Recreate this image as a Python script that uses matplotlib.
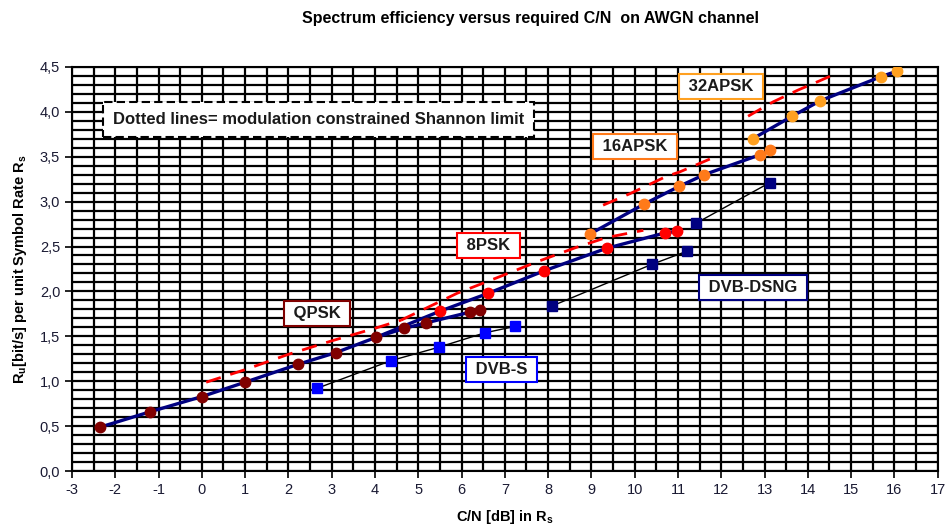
import matplotlib
matplotlib.use("Agg")
import matplotlib.pyplot as plt
from matplotlib.ticker import MultipleLocator, FuncFormatter

plt.rcParams["font.family"] = ["Liberation Sans", "DejaVu Sans"]
plt.rcParams["axes.unicode_minus"] = False

# DVB-S2 operating points (C/N in dB, spectral efficiency)
qpsk_cn = [-2.35, -1.2, 0.0, 1.0, 2.23, 3.1, 4.03, 4.68, 5.18, 6.2, 6.42]
qpsk_eff = [0.49, 0.66, 0.83, 0.99, 1.19, 1.32, 1.49, 1.59, 1.65, 1.77, 1.79]

psk8_cn = [5.5, 6.62, 7.91, 9.35, 10.69, 10.98]
psk8_eff = [1.78, 1.98, 2.23, 2.48, 2.65, 2.67]

apsk16_cn = [8.97, 10.21, 11.03, 11.61, 12.89, 13.13]
apsk16_eff = [2.64, 2.97, 3.17, 3.30, 3.52, 3.57]

apsk32_cn = [12.73, 13.64, 14.28, 15.69, 16.05]
apsk32_eff = [3.70, 3.95, 4.12, 4.39, 4.45]

# DVB-S and DVB-DSNG
dvbs_cn = [2.65, 4.37, 5.48, 6.54, 7.23]
dvbs_eff = [0.92, 1.23, 1.38, 1.54, 1.61]

dsng_8psk_cn = [8.1, 10.39, 11.22]
dsng_8psk_eff = [1.84, 2.30, 2.45]
dsng_16qam_cn = [11.42, 13.12]
dsng_16qam_eff = [2.76, 3.21]

# modulation constrained Shannon limits (dashed)
sh_qpsk_cn = [0.1, 1.0, 2.0, 3.0, 4.0, 4.6]
sh_qpsk_eff = [0.99, 1.13, 1.30, 1.45, 1.59, 1.68]
sh_8psk_cn = [4.6, 5.9, 6.7, 7.8, 8.65, 9.35, 10.2]
sh_8psk_eff = [1.68, 1.98, 2.13, 2.34, 2.49, 2.60, 2.68]
sh_16apsk_cn = [9.27, 9.9, 10.73, 11.04, 11.77]
sh_16apsk_eff = [2.96, 3.09, 3.28, 3.33, 3.48]
sh_32apsk_cn = [12.62, 13.2, 13.77, 14.16, 14.54]
sh_32apsk_eff = [3.95, 4.11, 4.24, 4.32, 4.40]

NAVY = "#000080"
MAROON = "#800000"
RED = "#FF0000"
ORANGE16 = "#FF7A1A"
ORANGE32 = "#FFA020"
BLUE = "#0000FF"

fig = plt.figure(figsize=(9.5, 5.3), dpi=100)
ax = fig.add_axes([0.0758, 0.111, 0.9112, 0.763])

# grid
ax.set_xlim(-3, 17)
ax.set_ylim(0, 4.5)
ax.xaxis.set_major_locator(MultipleLocator(1))
ax.xaxis.set_minor_locator(MultipleLocator(0.5))
ax.yaxis.set_major_locator(MultipleLocator(0.5))
ax.yaxis.set_minor_locator(MultipleLocator(0.1))
ax.grid(True, which="both", color="black", linewidth=1.6)
ax.set_axisbelow(True)
ax.tick_params(which="minor", length=0)
ax.tick_params(which="major", length=5, width=1.2, direction="out",
               labelsize=10.5, labelcolor="#1a1a33")
ax.yaxis.set_major_formatter(FuncFormatter(lambda v, p: f"{v:.1f}".replace(".", ",")))
for s in ax.spines.values():
    s.set_linewidth(1.5)

dash = (0, (5.5, 3.6))
for cn, eff in [(sh_qpsk_cn, sh_qpsk_eff), (sh_8psk_cn, sh_8psk_eff),
                (sh_16apsk_cn, sh_16apsk_eff), (sh_32apsk_cn, sh_32apsk_eff)]:
    ax.plot(cn, eff, color=RED, linewidth=2, linestyle=dash, zorder=3)

# thin black lines through DVB-S / DSNG
ax.plot(dvbs_cn, dvbs_eff, color="black", linewidth=1, zorder=3)
ax.plot(dsng_8psk_cn, dsng_8psk_eff, color="black", linewidth=1, zorder=3)
ax.plot(dsng_16qam_cn, dsng_16qam_eff, color="black", linewidth=1, zorder=3)

# navy DVB-S2 lines; the 8PSK branch starts at QPSK 3/4
ax.plot(qpsk_cn, qpsk_eff, color=NAVY, linewidth=2.4, zorder=4)
ax.plot([qpsk_cn[6]] + psk8_cn, [qpsk_eff[6]] + psk8_eff, color=NAVY, linewidth=2.4, zorder=4)
ax.plot(apsk16_cn, apsk16_eff, color=NAVY, linewidth=2.4, zorder=4)
ax.plot(apsk32_cn, apsk32_eff, color=NAVY, linewidth=2.4, zorder=4)

ms = 7.5
ax.plot(qpsk_cn, qpsk_eff, "o", color=MAROON, markersize=ms, zorder=5)
ax.plot(psk8_cn, psk8_eff, "o", color=RED, markersize=ms, zorder=5)
ax.plot(apsk16_cn, apsk16_eff, "o", color=ORANGE16, markersize=ms, zorder=5)
ax.plot(apsk32_cn, apsk32_eff, "o", color=ORANGE32, markersize=ms, zorder=5)
ax.plot(dvbs_cn, dvbs_eff, "s", color=BLUE, markersize=6.5, zorder=5)
ax.plot(dsng_8psk_cn + dsng_16qam_cn, dsng_8psk_eff + dsng_16qam_eff, "s",
        color=NAVY, markersize=6.5, zorder=5)


def label(x, y, txt, edge, ls="-", pad=0.3):
    ax.text(x, y, txt, ha="center", va="center", fontsize=12, fontweight="bold",
            color="#1a1a1a", zorder=6,
            bbox=dict(boxstyle=f"square,pad={pad}", facecolor="white",
                      edgecolor=edge, linewidth=1.5, linestyle=ls))


label(2.66, 1.75, " QPSK ", MAROON)
label(6.63, 2.51, " 8PSK ", RED)
label(6.92, 1.13, " DVB-S ", BLUE)
label(10.0, 3.61, " 16APSK ", ORANGE16)
label(12.0, 4.28, " 32APSK ", ORANGE32)
label(12.73, 2.04, " DVB-DSNG ", NAVY)
label(2.70, 3.91, "Dotted lines= modulation constrained Shannon limit", "black",
      ls=(0, (4, 2)), pad=0.6)

fig.text(0.558, 0.966, "Spectrum efficiency versus required C/N  on AWGN channel",
         ha="center", va="center", fontsize=11.5, fontweight="bold")
ax.set_xlabel("C/N [dB] in R$_\\mathregular{s}$", fontsize=10.5, fontweight="bold",
              labelpad=8)
ax.set_ylabel("R$_\\mathregular{u}$[bit/s] per unit Symbol Rate R$_\\mathregular{s}$",
              fontsize=10.5, fontweight="bold", labelpad=8)

fig.savefig("out.png", dpi=100)
